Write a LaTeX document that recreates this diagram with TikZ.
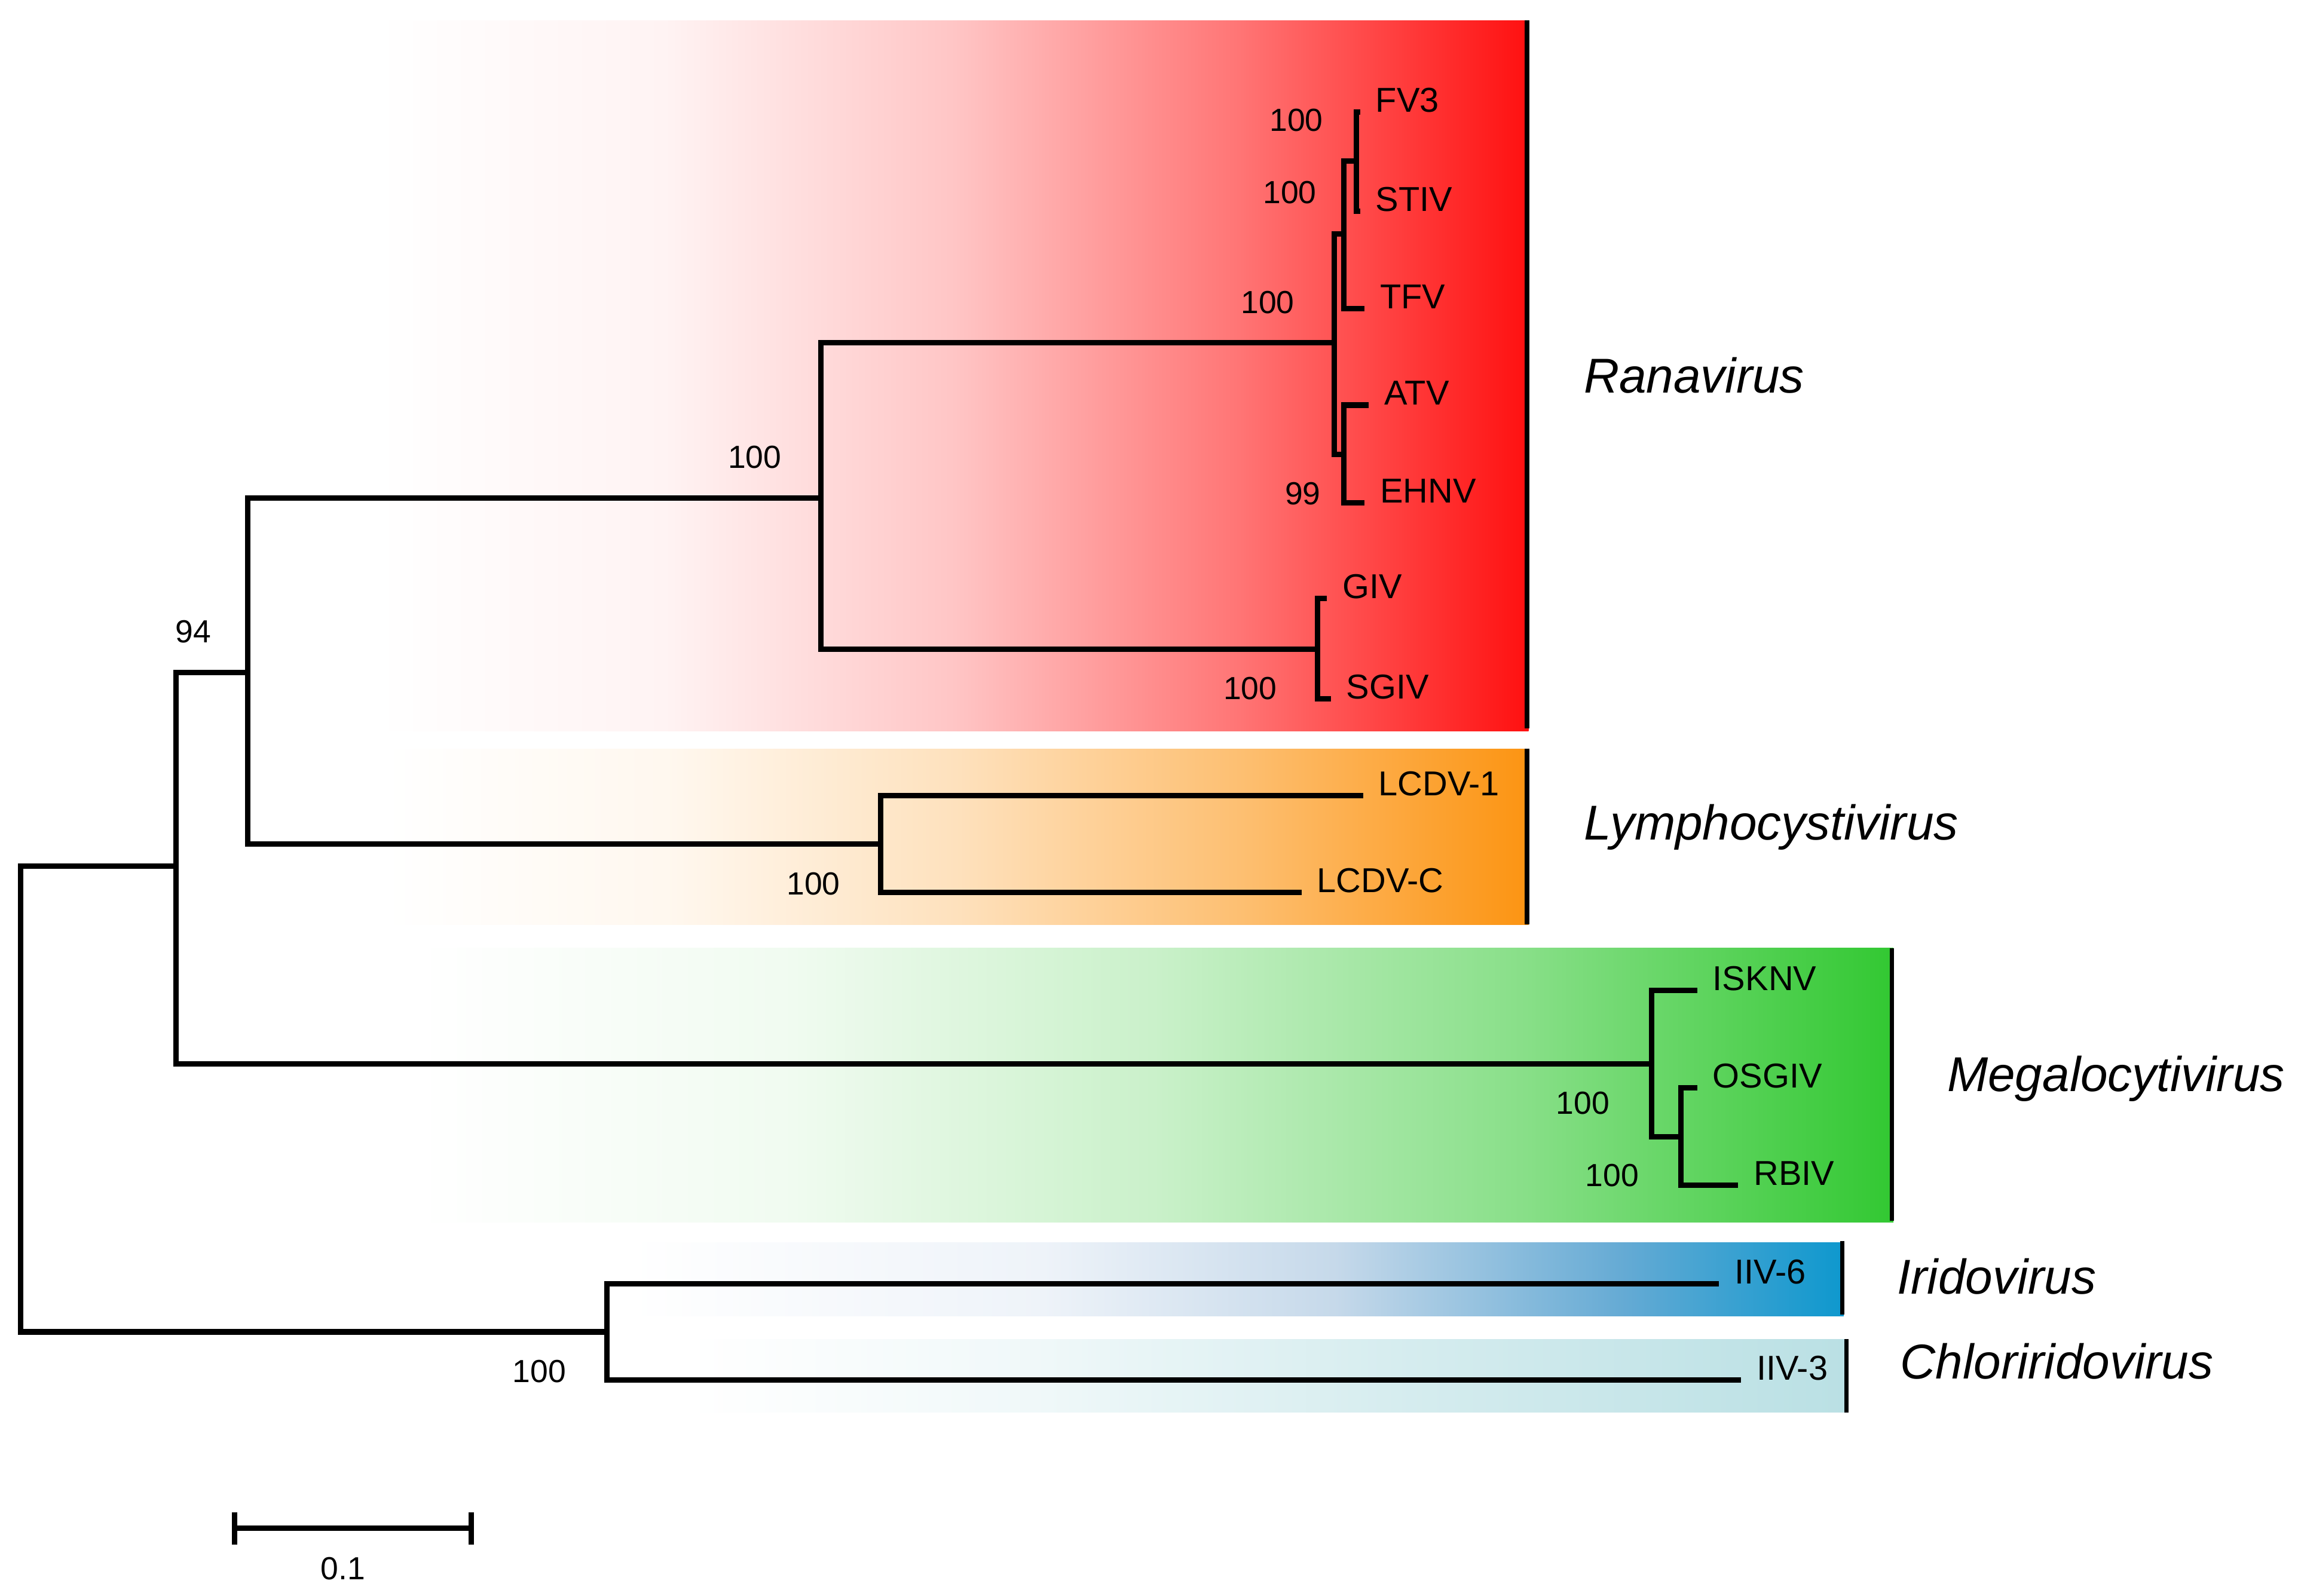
\documentclass[tikz,border=0pt]{standalone}
\usepackage{fontspec}
\setmainfont{Liberation Sans}

\definecolor{ranared}{RGB}{255,16,16}
\definecolor{lymorange}{RGB}{252,148,18}
\definecolor{megagreen}{RGB}{50,200,50}
\definecolor{iriblue}{RGB}{14,152,206}
\definecolor{iriblueA}{RGB}{238,243,249}
\definecolor{iriblueB}{RGB}{198,217,234}
\definecolor{iriblueC}{RGB}{100,170,212}
\definecolor{chlteal}{RGB}{186,224,228}

\pgfdeclarehorizontalshading{redfade}{100bp}{color(0bp)=(white); color(25bp)=(white); color(37.5bp)=(ranared!5!white); color(50bp)=(ranared!24!white); color(62.5bp)=(ranared!58!white); color(75bp)=(ranared); color(100bp)=(ranared)}
\pgfdeclarehorizontalshading{orangefade}{100bp}{color(0bp)=(white); color(25bp)=(white); color(37.5bp)=(lymorange!7!white); color(50bp)=(lymorange!28!white); color(62.5bp)=(lymorange!60!white); color(75bp)=(lymorange); color(100bp)=(lymorange)}
\pgfdeclarehorizontalshading{greenfade}{100bp}{color(0bp)=(white); color(25bp)=(white); color(37.5bp)=(megagreen!7!white); color(50bp)=(megagreen!26!white); color(62.5bp)=(megagreen!58!white); color(75bp)=(megagreen); color(100bp)=(megagreen)}
\pgfdeclarehorizontalshading{bluefade}{100bp}{color(0bp)=(white); color(25bp)=(white); color(42bp)=(iriblueA); color(54bp)=(iriblueB); color(66bp)=(iriblueC); color(75bp)=(iriblue); color(100bp)=(iriblue)}
\pgfdeclarehorizontalshading{tealfade}{100bp}{color(0bp)=(white); color(25bp)=(white); color(40bp)=(chlteal!22!white); color(55bp)=(chlteal!58!white); color(75bp)=(chlteal); color(100bp)=(chlteal)}

\newcommand\taxfont{\fontsize{6.7}{8}\selectfont}
\newcommand\bootfont{\fontsize{6.2}{7}\selectfont}
\newcommand\genfont{\fontsize{9.5}{11}\selectfont\itshape}

\begin{document}
\begin{tikzpicture}[x=0.01cm,y=-0.01cm,
  branch/.style={line width=1.05pt},
  cladebar/.style={line width=0.85pt},
  taxon/.style={anchor=base west,inner xsep=0.1cm,inner ysep=0pt,font=\taxfont},
  boot/.style={inner sep=0pt,font=\bootfont},
  genus/.style={anchor=base west,inner sep=0pt,font=\genfont}]
\useasboundingbox (0,0) rectangle (1568,1089);

% clade boxes
\shade[shading=redfade] (257,14) rectangle (1043,499);
\shade[shading=orangefade] (263,511) rectangle (1043,631);
\shade[shading=greenfade] (285,647) rectangle (1292,834);
\shade[shading=bluefade] (430,848) rectangle (1258,898);
\shade[shading=tealfade] (470,914) rectangle (1259,964);
\draw[cladebar] (1042,14) -- (1042,497);
\draw[cladebar] (1042,511) -- (1042,631);
\draw[cladebar] (1291,647) -- (1291,833);
\draw[cladebar] (1257,847) -- (1257,897);
\draw[cladebar] (1260,914) -- (1260,964);

% genera
\node[genus] (ranavirus) at (1080,268) {Ranavirus};
\node[genus] (lympho) at (1080,573) {Lymphocystivirus};
\node[genus] (megalo) at (1328,745) {Megalocytivirus};
\node[genus] (irido) at (1294,883) {Iridovirus};
\node[genus] (chlori) at (1296,941) {Chloriridovirus};

% inner nodes
\coordinate (root) at (14,750);
\coordinate (n94) at (120,591);
\coordinate (nA) at (169,459);
\coordinate (nRan) at (560,340);
\coordinate (nR1) at (910.5,234);
\coordinate (nR2) at (917,159.5);
\coordinate (nR3) at (925.5,110);
\coordinate (nR4) at (917,310);
\coordinate (nGIV) at (899,443);
\coordinate (nLym) at (601,576);
\coordinate (nMeg) at (1127,726);
\coordinate (nMeg2) at (1147,776);
\coordinate (nIri) at (414,909);

% taxa
\node[taxon] (fv3) at (928,76.5) {FV3};
\node[taxon] (stiv) at (928,144) {STIV};
\node[taxon] (tfv) at (931,210.5) {TFV};
\node[taxon] (atv) at (934,276.5) {ATV};
\node[taxon] (ehnv) at (931,343) {EHNV};
\node[taxon] (giv) at (905.5,408.5) {GIV};
\node[taxon] (sgiv) at (908,477) {SGIV};
\node[taxon] (lcdv1) at (930,543) {LCDV-1};
\node[taxon] (lcdvc) at (888,609) {LCDV-C};
\node[taxon] (isknv) at (1158,676) {ISKNV};
\node[taxon] (osgiv) at (1158,742.5) {OSGIV};
\node[taxon] (rbiv) at (1186,809) {RBIV};
\node[taxon] (iiv6) at (1173,876) {IIV-6};
\node[taxon] (iiv3) at (1188,942) {IIV-3};

% branches
\draw[branch] (root) |- (n94);
\draw[branch] (root) |- (nIri);
\draw[branch] (n94) |- (nA);
\draw[branch] (n94) |- (nMeg);
\draw[branch] (nA) |- (nRan);
\draw[branch] (nA) |- (nLym);
\draw[branch] (nRan) |- (nR1);
\draw[branch] (nRan) |- (nGIV);
\draw[branch] (nR1) |- (nR2);
\draw[branch] (nR1) |- (nR4);
\draw[branch] (nR2) |- (nR3);
\draw[branch] (nR2) |- (tfv.base west);
\draw[branch] (nR3) |- (fv3.base west);
\draw[branch] (nR3) |- (stiv.base west);
\draw[branch] (nR4) |- (atv.base west);
\draw[branch] (nR4) |- (ehnv.base west);
\draw[branch] (nGIV) |- (giv.base west);
\draw[branch] (nGIV) |- (sgiv.base west);
\draw[branch] (nLym) |- (lcdv1.base west);
\draw[branch] (nLym) |- (lcdvc.base west);
\draw[branch] (nMeg) |- (isknv.base west);
\draw[branch] (nMeg) |- (nMeg2);
\draw[branch] (nMeg2) |- (osgiv.base west);
\draw[branch] (nMeg2) |- (rbiv.base west);
\draw[branch] (nIri) |- (iiv6.base west);
\draw[branch] (nIri) |- (iiv3.base west);

% bootstrap values
\node[boot] (b94) at (132,431) {94};
\node[boot] (bRan) at (515,312) {100};
\node[boot] (bR3) at (884.5,82) {100};
\node[boot] (bR2) at (880,131.5) {100};
\node[boot] (bR1) at (865,206.5) {100};
\node[boot] (bR4) at (889,337) {99};
\node[boot] (bGIV) at (853,470) {100};
\node[boot] (bLym) at (555,603) {100};
\node[boot] (bMeg) at (1080,753) {100};
\node[boot] (bMeg2) at (1100,802) {100};
\node[boot] (bIri) at (368,936) {100};

% scale bar
\coordinate (sbL) at (160,1043);
\coordinate (sbR) at (321.5,1043);
\draw[branch] (sbL) -- (sbR);
\draw[branch] ([yshift=0.11cm]sbL) -- ([yshift=-0.11cm]sbL);
\draw[branch] ([yshift=0.11cm]sbR) -- ([yshift=-0.11cm]sbR);
\node[boot] (sbtext) at (234,1070.5) {0.1};
\end{tikzpicture}
\end{document}
